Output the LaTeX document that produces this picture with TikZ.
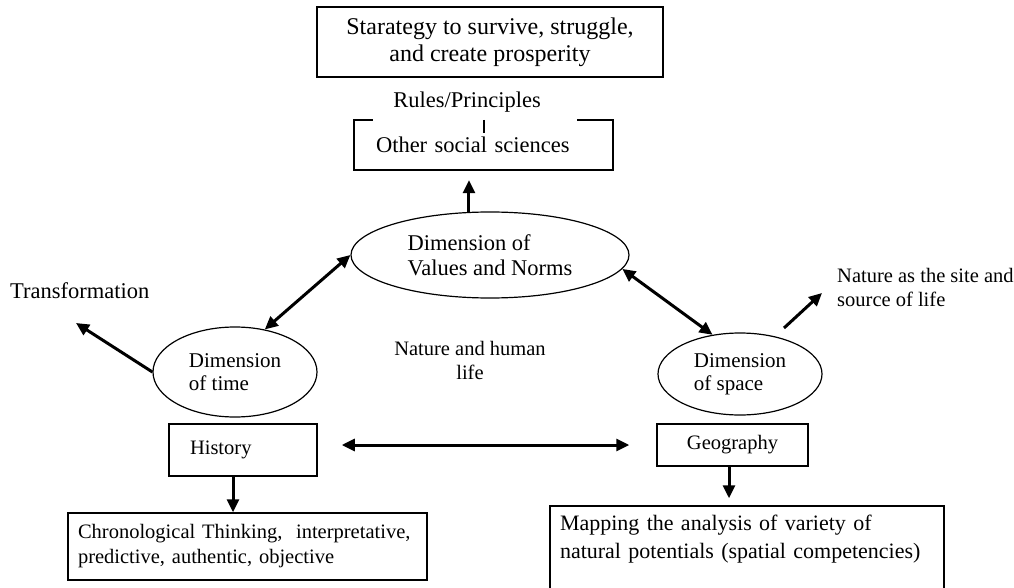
\documentclass[tikz,border=0pt]{standalone}
\usepackage{fontspec}
\setmainfont{Liberation Serif}
\usetikzlibrary{arrows.meta,shapes.geometric,calc}
\begin{document}
\begin{tikzpicture}[x=1pt,y=-1pt,
  box/.style={draw,line width=1.5pt,inner sep=0pt},
  oval/.style={draw,ellipse,line width=1.2pt,inner sep=0pt,align=left,font=\fontsize{21}{23}\selectfont},
  arr/.style={line width=3pt,-{Triangle[length=13pt,width=12pt]}},
  darr/.style={line width=3pt,{Triangle[length=13pt,width=12pt]}-{Triangle[length=13pt,width=12pt]}},
  txt/.style={inner sep=0pt,font=\fontsize{22.5}{25}\selectfont},
  stxt/.style={inner sep=0pt,font=\fontsize{20.5}{24}\selectfont}]
\useasboundingbox (0,0) rectangle (1014,588);
\clip (0,0) rectangle (1014,588);

% top box
\node[box, minimum width=346pt, minimum height=70pt, align=center,
      font=\fontsize{24}{27}\selectfont] (strat) at (490,42)
      {Starategy to survive, struggle,\\and create prosperity};
\node[txt] (rules) at (467,102) {Rules/Principles};

% other social sciences (top edge interrupted)
\node[txt, minimum width=259pt, minimum height=50pt, text width=215pt,
      inner xsep=22pt, align=left] (oss) at (483.5,145) {Other social sciences};
\draw[line width=1.5pt] ([xshift=19pt]oss.north west) -- (oss.north west)
  -- (oss.south west) -- (oss.south east) -- (oss.north east)
  -- ([xshift=-36pt]oss.north east);
\draw[line width=2pt] (oss.north) -- ++(0,13);

% ellipses
\node[oval, font=\fontsize{22.5}{25}\selectfont, minimum width=278pt,
      minimum height=86pt] (values) at (490,255) {Dimension of\\Values and Norms};
\node[oval, minimum width=164pt, minimum height=90pt] (time) at (235,372)
      {Dimension\\of time};
\node[oval, minimum width=164pt, minimum height=82pt] (space) at (740,374)
      {Dimension\\of space};

% free texts
\node[txt, anchor=west] (trans) at (10,291) {Transformation};
\node[stxt, anchor=west, align=left] (site) at (837,287)
      {Nature as the site and\\source of life};
\node[stxt, align=center] (nhl) at (470,360) {Nature and human\\life};

% bottom boxes
\node[box, stxt, minimum width=148pt, minimum height=52pt, text width=106pt,
      inner xsep=21pt, align=left] (hist) at (243,450) {History};
\node[box, stxt, minimum width=151pt, minimum height=42pt] (geo) at (732.5,445)
      {Geography};
\node[box, font=\fontsize{20.5}{25}\selectfont, minimum width=359pt,
      minimum height=67pt, text width=339pt, inner xsep=10pt, align=left]
      (chrono) at (247.5,546.5)
      {Chronological Thinking, \ interpretative,\\predictive, authentic, objective};
\node[box, font=\fontsize{22}{28}\selectfont, minimum width=394pt,
      minimum height=98pt, text width=374pt, inner xsep=10pt, align=left]
      (map) at (747,555)
      {Mapping the analysis of variety of\\natural potentials (spatial competencies)\\\strut};

% connectors
\coordinate (trtip) at (76,323);
\coordinate (sp1) at (784,328);
\coordinate (sp2) at (822,293);
\draw[darr] (values.west) -- (time.55);
\draw[darr] (values.-6) -- (space.125);
\draw[arr, shorten >=10pt] (values.116) -- (values.116 |- oss.south);
\draw[arr] (time.west) -- (trtip);
\draw[arr] (sp1) -- (sp2);
\draw[arr] ([xshift=-10pt]hist.south) -- ([xshift=-10pt]hist.south |- chrono.north);
\draw[arr, shorten >=7pt] ([xshift=-3.5pt]geo.south) -- ([xshift=-3.5pt]geo.south |- map.north);
\draw[darr, shorten <=24pt, shorten >=27pt] (hist.east |- geo.west) -- (geo.west);
\end{tikzpicture}
\end{document}
